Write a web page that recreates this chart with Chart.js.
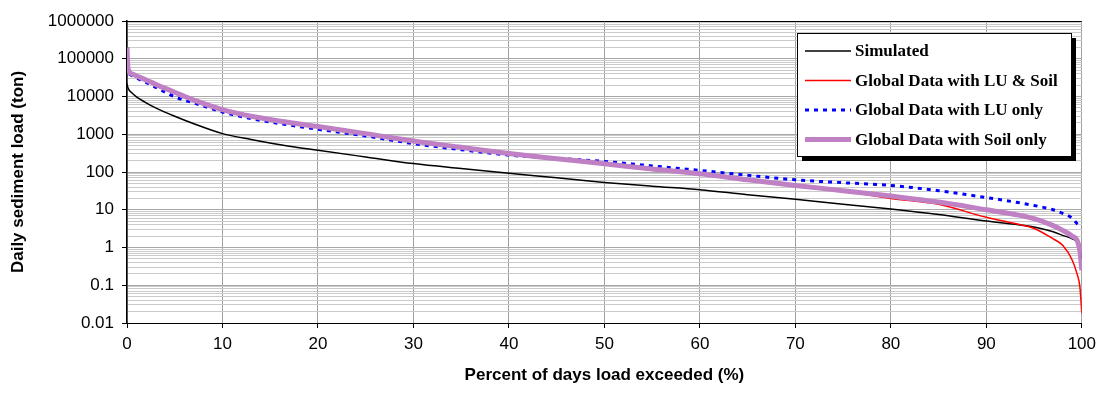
<!DOCTYPE html>
<html>
<head>
<meta charset="utf-8">
<script src="https://cdn.jsdelivr.net/npm/chart.js@4/dist/chart.umd.min.js"></script>
<style>
  html, body { margin: 0; padding: 0; background: #fff; }
  #wrap { width: 1102px; height: 396px; }
</style>
</head>
<body>
<div id="wrap"><canvas id="chart" width="1102" height="396"></canvas></div>
<script>
// --- Data ---
const pctExceeded = [0, 0.1, 0.5, 1, 2, 3, 5, 7, 10, 13, 17, 20, 25, 30, 35, 40, 45, 50, 55, 60, 65, 70, 75, 80, 85, 90, 93, 95, 97, 98, 99, 99.5, 99.8, 100];

const simulated = [22000, 17000, 12500, 9800, 6800, 5000, 3000, 1900, 1040, 730, 480, 375, 250, 167, 123, 92, 70, 53, 42, 34, 25, 19, 14, 10.5, 7.5, 5, 4.1, 3.5, 2.6, 2.1, 1.7, 1.4, 1.0, 0.5];
const luAndSoil = [200000, 56000, 40000, 35000, 27500, 21000, 13000, 8000, 4500, 3000, 2050, 1600, 1040, 660, 450, 310, 225, 165, 120, 90, 62, 44, 31, 20, 14, 6.3, 4.3, 3.2, 1.7, 1.14, 0.46, 0.2, 0.09, 0.018];
const luOnly = [200000, 50000, 36000, 31000, 23500, 17500, 9800, 6700, 3900, 2600, 1750, 1350, 900, 565, 390, 280, 230, 190, 145, 110, 82, 62, 52, 44, 32, 21, 16, 13, 10, 8, 6, 4.3, 3.8, 3.5];
const soilOnly = [200000, 56000, 40000, 35000, 27500, 21000, 13000, 8000, 4500, 3000, 2050, 1600, 1040, 660, 450, 310, 225, 165, 120, 90, 62, 44, 32, 23, 16, 10, 7.5, 5.8, 3.8, 2.85, 2.0, 1.55, 0.8, 0.25];

const seriesNames = ['Simulated', 'Global Data with LU & Soil', 'Global Data with LU only', 'Global Data with Soil only'];

const yMajorTicks = [0.01, 0.1, 1, 10, 100, 1000, 10000, 100000, 1000000];
const yTickLabels = ['0.01', '0.1', '1', '10', '100', '1000', '10000', '100000', '1000000'];

// every 1..9 x 10^k step, so the log grid matches the reference
const yGridTicks = [];
yMajorTicks.forEach((m, i) => {
  if (i === yMajorTicks.length - 1) { yGridTicks.push(m); return; }
  for (let k = 1; k <= 9; k++) yGridTicks.push(m * k);
});

function majorIndex(v) {
  return yMajorTicks.findIndex(m => Math.abs(Math.log10(v) - Math.log10(m)) < 1e-6);
}

function pts(values) { return values.map((v, i) => ({ x: pctExceeded[i], y: v })); }

const SANS = '"Liberation Sans", Arial, sans-serif';
const SERIF = '"Liberation Serif", "Times New Roman", serif';

// legend with drop shadow, drawn inside the plot
const boxLegend = {
  id: 'boxLegend',
  afterDraw(chart) {
    const { ctx, chartArea } = chart;
    ctx.save();
    // top frame line
    ctx.strokeStyle = '#000';
    ctx.lineWidth = 1;
    ctx.beginPath();
    ctx.moveTo(chartArea.left, Math.round(chartArea.top) + 0.5);
    ctx.lineTo(chartArea.right, Math.round(chartArea.top) + 0.5);
    ctx.stroke();

    const x = 797, y = 33, w = 274, h = 123;
    ctx.fillStyle = '#000';
    ctx.fillRect(x + 5, y + 5, w, h);
    ctx.fillStyle = '#fff';
    ctx.fillRect(x, y, w, h);
    ctx.strokeStyle = '#000';
    ctx.strokeRect(x + 0.5, y + 0.5, w, h);

    ctx.font = 'bold 17px ' + SERIF;
    ctx.textBaseline = 'middle';
    ctx.textAlign = 'left';
    chart.data.datasets.forEach((ds, i) => {
      const ry = y + 18 + i * 29.5;
      ctx.strokeStyle = ds.borderColor;
      ctx.lineWidth = ds.borderWidth;
      ctx.setLineDash(ds.borderDash || []);
      ctx.beginPath();
      ctx.moveTo(x + 8, ry);
      ctx.lineTo(x + 54, ry);
      ctx.stroke();
      ctx.setLineDash([]);
      ctx.fillStyle = '#000';
      ctx.fillText(ds.label, x + 58, ry + 1);
    });
    ctx.restore();
  }
};

new Chart(document.getElementById('chart'), {
  type: 'line',
  data: {
    datasets: [
      { label: seriesNames[0], data: pts(simulated), borderColor: '#000000', borderWidth: 1.5, order: 4 },
      { label: seriesNames[1], data: pts(luAndSoil), borderColor: '#ff0000', borderWidth: 1.5, order: 3 },
      { label: seriesNames[2], data: pts(luOnly), borderColor: '#0000ff', borderWidth: 3, borderDash: [4, 5], order: 2 },
      { label: seriesNames[3], data: pts(soilOnly), borderColor: '#bf80c4', borderWidth: 5, order: 1 }
    ]
  },
  options: {
    responsive: false,
    animation: false,
    layout: { padding: { top: 21, right: 20, left: 0, bottom: 0 } },
    elements: {
      point: { radius: 0 },
      line: { cubicInterpolationMode: 'monotone', fill: false }
    },
    plugins: { legend: { display: false }, tooltip: { enabled: false } },
    scales: {
      x: {
        type: 'linear', min: 0, max: 100,
        afterFit: s => { s.height = 73; },
        border: { color: '#000', width: 1 },
        grid: { color: '#a0a0a0', tickColor: '#000', tickLength: 5 },
        ticks: { stepSize: 10, color: '#000', padding: 6, font: { family: SANS, size: 17 } },
        title: {
          display: true, text: 'Percent of days load exceeded (%)', color: '#000',
          font: { family: SANS, size: 17, weight: 'bold' }, padding: { top: 0, bottom: 10 }
        }
      },
      y: {
        type: 'logarithmic', min: 0.01, max: 1000000,
        afterFit: s => { s.width = 127; },
        afterBuildTicks: s => { s.ticks = yGridTicks.map(v => ({ value: v })); },
        border: { color: '#000', width: 1.5 },
        grid: {
          color: c => (c.tick && majorIndex(c.tick.value) >= 0) ? '#a8a8a8' : '#cacaca',
          tickColor: c => (c.tick && majorIndex(c.tick.value) >= 0) ? '#000' : 'rgba(0,0,0,0)',
          tickLength: 5
        },
        ticks: {
          autoSkip: false, color: '#000', padding: 8,
          font: { family: SANS, size: 17 },
          callback: v => { const i = majorIndex(v); return i >= 0 ? yTickLabels[i] : ''; }
        },
        title: {
          display: true, text: 'Daily sediment load (ton)', color: '#000',
          font: { family: SANS, size: 17, weight: 'bold' }, padding: { top: 8, bottom: 0 }
        }
      }
    }
  },
  plugins: [boxLegend]
});
</script>
</body>
</html>
